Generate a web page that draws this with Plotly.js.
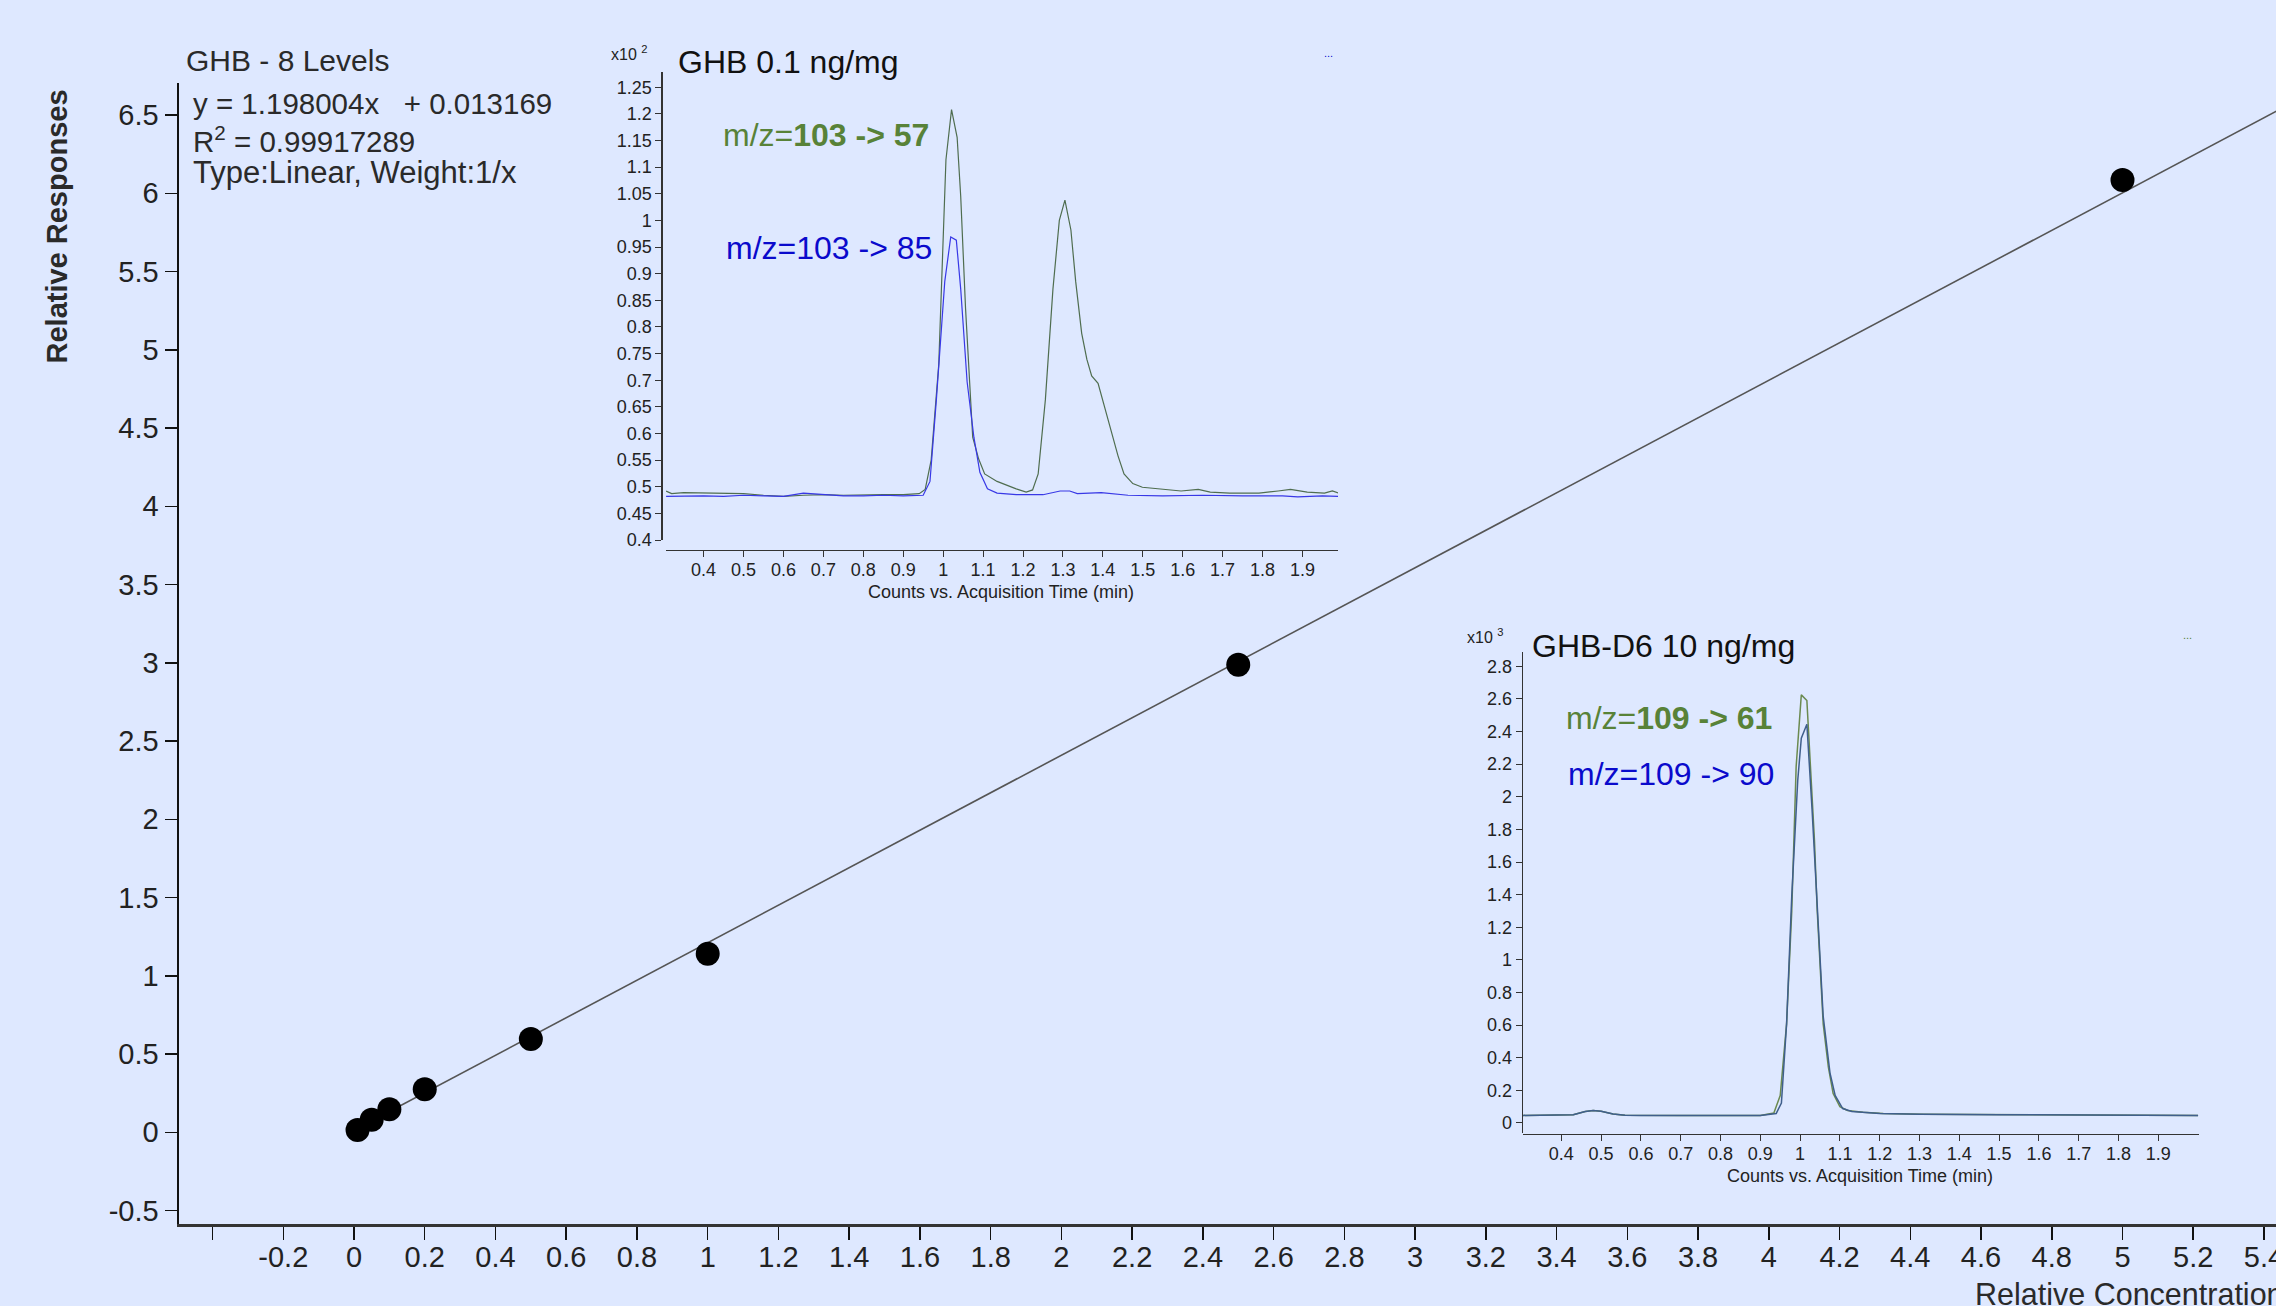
<!DOCTYPE html>
<html>
<head>
<meta charset="utf-8">
<script src="https://cdn.plot.ly/plotly-3.0.1.min.js"></script>
<style>
  html, body { margin: 0; padding: 0; background: #DEE8FF; }
  #chart { width: 2276px; height: 1306px; }
</style>
</head>
<body>
<div id="chart"></div>
<script>
// ---------------- DATA ----------------
// Calibration curve (GHB - 8 levels)
const concentrations = [0.01, 0.05, 0.1, 0.2, 0.5, 1, 2.5, 5];
const responses      = [0.014, 0.08, 0.147, 0.275, 0.596, 1.141, 2.987, 6.085];
const fitSlope = 1.198004;
const fitIntercept = 0.013169;
const fitXRange = [0, 5.5];

// Main axis ticks
const mainXTickVals = [-0.4,-0.2,0,0.2,0.4,0.6,0.8,1,1.2,1.4,1.6,1.8,2,2.2,2.4,2.6,2.8,3,3.2,3.4,3.6,3.8,4,4.2,4.4,4.6,4.8,5,5.2,5.4];
const mainXTickText = ['','-0.2','0','0.2','0.4','0.6','0.8','1','1.2','1.4','1.6','1.8','2','2.2','2.4','2.6','2.8','3','3.2','3.4','3.6','3.8','4','4.2','4.4','4.6','4.8','5','5.2','5.4'];
const mainYTickVals = [-0.5,0,0.5,1,1.5,2,2.5,3,3.5,4,4.5,5,5.5,6,6.5];
const mainYTickText = ['-0.5','0','0.5','1','1.5','2','2.5','3','3.5','4','4.5','5','5.5','6','6.5'];

// Inset 1: GHB 0.1 ng/mg chromatogram (x10^2 counts)
const ghbTime57 = [0.306,0.32,0.35,0.40,0.45,0.50,0.55,0.60,0.65,0.70,0.75,0.80,0.85,0.90,0.94,0.955,0.97,0.989,1.007,1.021,1.035,1.044,1.056,1.074,1.089,1.104,1.135,1.183,1.208,1.224,1.238,1.256,1.275,1.291,1.305,1.32,1.332,1.347,1.36,1.372,1.388,1.402,1.42,1.438,1.453,1.475,1.499,1.548,1.596,1.639,1.669,1.718,1.791,1.839,1.87,1.912,1.955,1.975,1.99];
const ghbCounts57 = [0.492,0.487,0.489,0.488,0.488,0.487,0.484,0.482,0.484,0.485,0.484,0.485,0.485,0.485,0.487,0.495,0.55,0.73,1.114,1.208,1.156,1.045,0.836,0.593,0.552,0.524,0.51,0.496,0.49,0.494,0.524,0.663,0.871,1.0,1.038,0.982,0.885,0.788,0.739,0.708,0.694,0.656,0.607,0.558,0.524,0.506,0.499,0.496,0.492,0.495,0.49,0.488,0.488,0.492,0.495,0.49,0.488,0.492,0.488];
const ghbTime85 = [0.306,0.35,0.40,0.45,0.50,0.55,0.60,0.65,0.70,0.75,0.80,0.85,0.90,0.95,0.967,0.983,1.004,1.019,1.033,1.044,1.06,1.077,1.092,1.111,1.135,1.183,1.25,1.293,1.317,1.336,1.396,1.463,1.55,1.65,1.75,1.85,1.888,1.95,1.99];
const ghbCounts85 = [0.482,0.483,0.483,0.482,0.484,0.483,0.482,0.488,0.485,0.483,0.483,0.484,0.483,0.484,0.51,0.663,0.885,0.969,0.963,0.871,0.697,0.593,0.527,0.496,0.488,0.485,0.485,0.492,0.492,0.487,0.489,0.484,0.483,0.484,0.483,0.483,0.481,0.483,0.482];
const inset1YTickVals = [0.4,0.45,0.5,0.55,0.6,0.65,0.7,0.75,0.8,0.85,0.9,0.95,1,1.05,1.1,1.15,1.2,1.25];
const inset1YTickText = ['0.4','0.45','0.5','0.55','0.6','0.65','0.7','0.75','0.8','0.85','0.9','0.95','1','1.05','1.1','1.15','1.2','1.25'];

// Inset 2: GHB-D6 10 ng/mg chromatogram (x10^3 counts)
const d6Time61 = [0.304,0.40,0.43,0.46,0.48,0.50,0.53,0.56,0.60,0.70,0.80,0.90,0.934,0.95,0.966,0.979,0.99,1.003,1.017,1.028,1.036,1.043,1.058,1.071,1.083,1.1,1.119,1.158,1.209,1.311,1.503,1.759,2.0];
const d6Counts61 = [0.046,0.046,0.05,0.07,0.076,0.072,0.055,0.047,0.046,0.046,0.046,0.046,0.06,0.168,0.607,1.3,2.185,2.625,2.59,2.10,1.735,1.3,0.607,0.342,0.18,0.099,0.076,0.065,0.058,0.053,0.051,0.049,0.046];
const d6Time90 = [0.304,0.40,0.43,0.46,0.48,0.50,0.53,0.56,0.60,0.90,0.94,0.953,0.966,0.979,0.994,1.003,1.017,1.03,1.043,1.058,1.075,1.088,1.107,1.13,1.2,1.3,1.5,1.75,2.0];
const d6Counts90 = [0.046,0.046,0.05,0.07,0.076,0.072,0.055,0.047,0.046,0.046,0.058,0.122,0.607,1.392,2.10,2.359,2.445,1.923,1.346,0.653,0.307,0.168,0.088,0.07,0.058,0.053,0.05,0.048,0.046];
const inset2YTickVals = [0,0.2,0.4,0.6,0.8,1,1.2,1.4,1.6,1.8,2,2.2,2.4,2.6,2.8];
const inset2YTickText = ['0','0.2','0.4','0.6','0.8','1','1.2','1.4','1.6','1.8','2','2.2','2.4','2.6','2.8'];

// Shared inset time-axis ticks
const insetXTickVals = [0.4,0.5,0.6,0.7,0.8,0.9,1,1.1,1.2,1.3,1.4,1.5,1.6,1.7,1.8,1.9];
const insetXTickText = ['0.4','0.5','0.6','0.7','0.8','0.9','1','1.1','1.2','1.3','1.4','1.5','1.6','1.7','1.8','1.9'];

// ---------------- LAYOUT HELPERS ----------------
const W = 2276, H = 1306;
const px = x => x / W;
const py = y => 1 - y / H;
const FONT = 'Liberation Sans, Arial, Helvetica, sans-serif';
const BG = '#DEE8FF';
const GREEN = '#588238';
const BLUE = '#0A0ACC';

const fitX = fitXRange.slice();
const fitY = fitX.map(x => fitSlope * x + fitIntercept);

const traces = [
  { x: fitX, y: fitY, mode: 'lines', xaxis: 'x', yaxis: 'y',
    line: { color: '#555555', width: 1.6 }, hoverinfo: 'skip', showlegend: false },
  { x: concentrations, y: responses, mode: 'markers', xaxis: 'x', yaxis: 'y',
    marker: { color: '#000000', size: 24 }, showlegend: false },
  { x: ghbTime57, y: ghbCounts57, mode: 'lines', xaxis: 'x2', yaxis: 'y2',
    line: { color: '#4F6D4F', width: 1.2 }, showlegend: false },
  { x: ghbTime85, y: ghbCounts85, mode: 'lines', xaxis: 'x2', yaxis: 'y2',
    line: { color: '#3838E6', width: 1.2 }, showlegend: false },
  { x: d6Time61, y: d6Counts61, mode: 'lines', xaxis: 'x3', yaxis: 'y3',
    line: { color: '#6B8A50', width: 1.5 }, showlegend: false },
  { x: d6Time90, y: d6Counts90, mode: 'lines', xaxis: 'x3', yaxis: 'y3',
    line: { color: '#3F5F8C', width: 1.5 }, showlegend: false }
];

const insetAxisCommon = {
  showgrid: false, zeroline: false, showline: true,
  linecolor: '#333333', linewidth: 1.4,
  ticks: 'outside', ticklen: 6, tickwidth: 1, tickcolor: '#333333',
  tickfont: { family: FONT, size: 18, color: '#222222' }
};

const layout = {
  width: W, height: H,
  margin: { l: 0, r: 0, t: 0, b: 0, pad: 0 },
  paper_bgcolor: BG, plot_bgcolor: BG,
  showlegend: false,
  xaxis: {
    domain: [px(178.5), 1], range: [-0.4962, 5.434], anchor: 'y',
    showgrid: false, zeroline: false, showline: true,
    linecolor: '#333333', linewidth: 3,
    ticks: 'outside', ticklen: 13, tickwidth: 1.5, tickcolor: '#111111',
    tickmode: 'array', tickvals: mainXTickVals, ticktext: mainXTickText,
    ticklabeloverflow: 'allow', ticklabelstandoff: -8,
    tickfont: { family: FONT, size: 29, color: '#222222' }
  },
  yaxis: {
    domain: [py(1224), py(83)], range: [-0.586, 6.705], anchor: 'x',
    showgrid: false, zeroline: false, showline: true,
    linecolor: '#111111', linewidth: 2,
    ticks: 'outside', ticklen: 12, tickwidth: 1.5, tickcolor: '#111111',
    tickmode: 'array', tickvals: mainYTickVals, ticktext: mainYTickText,
    tickfont: { family: FONT, size: 29, color: '#222222' }
  },
  xaxis2: Object.assign({}, insetAxisCommon, {
    domain: [px(666), px(1338)], range: [0.3058, 1.989],
    anchor: 'free', position: py(549.8), ticklabelstandoff: -3,
    tickmode: 'array', tickvals: insetXTickVals, ticktext: insetXTickText
  }),
  yaxis2: Object.assign({}, insetAxisCommon, {
    domain: [py(540), py(71.8)], range: [0.4, 1.279],
    anchor: 'free', position: px(661.4),
    tickmode: 'array', tickvals: inset1YTickVals, ticktext: inset1YTickText
  }),
  xaxis3: Object.assign({}, insetAxisCommon, {
    domain: [px(1523), px(2198.7)], range: [0.3037, 2.0015],
    anchor: 'free', position: py(1134), ticklabelstandoff: -3,
    tickmode: 'array', tickvals: insetXTickVals, ticktext: insetXTickText
  }),
  yaxis3: Object.assign({}, insetAxisCommon, {
    domain: [py(1133), py(652)], range: [-0.062, 2.888],
    anchor: 'free', position: px(1521.6),
    tickmode: 'array', tickvals: inset2YTickVals, ticktext: inset2YTickText
  }),
  annotations: []
};

function note(text, x, y, size, color, opts) {
  layout.annotations.push(Object.assign({
    text: text, xref: 'paper', yref: 'paper', x: px(x), y: py(y),
    xanchor: 'left', yanchor: 'middle', showarrow: false,
    font: { family: FONT, size: size, color: color }
  }, opts || {}));
}

// Main chart texts
note('GHB - 8 Levels', 184, 61, 30, '#2A2A2A');
note('y = 1.198004x\u00a0\u00a0 + 0.013169', 191, 103, 29.5, '#2A2A2A');
note('R<sup>2</sup> = 0.99917289', 191, 140, 29.5, '#2A2A2A');
note('Type:Linear, Weight:1/x', 191, 173, 31, '#2A2A2A');
note('<b>Relative Responses</b>', 56, 226.5, 29, '#2A2A2A', { xanchor: 'center', textangle: -90 });
note('Relative Concentration', 1973, 1293.5, 30.5, '#2A2A2A');

// Inset 1 texts
note('x10 <sup>2</sup>', 609, 53, 16, '#222222');
note('GHB 0.1 ng/mg', 676, 62.5, 32, '#111111');
note('m/z=<b>103 -&gt; 57</b>', 721, 135, 32, GREEN);
note('m/z=103 -&gt; 85', 724, 248, 32, BLUE);
note('...', 1322, 53, 11, BLUE);
note('Counts vs. Acquisition Time (min)', 1001, 592, 18, '#222222', { xanchor: 'center' });

// Inset 2 texts
note('x10 <sup>3</sup>', 1465.5, 636, 16, '#222222');
note('GHB-D6 10 ng/mg', 1530, 646, 32, '#111111');
note('m/z=<b>109 -&gt; 61</b>', 1564, 718, 32, GREEN);
note('m/z=109 -&gt; 90', 1566, 774, 32, BLUE);
note('...', 2181, 635, 11, GREEN);
note('Counts vs. Acquisition Time (min)', 1860, 1176, 18, '#222222', { xanchor: 'center' });

Plotly.newPlot('chart', traces, layout, { displayModeBar: false, staticPlot: true });
</script>
</body>
</html>
